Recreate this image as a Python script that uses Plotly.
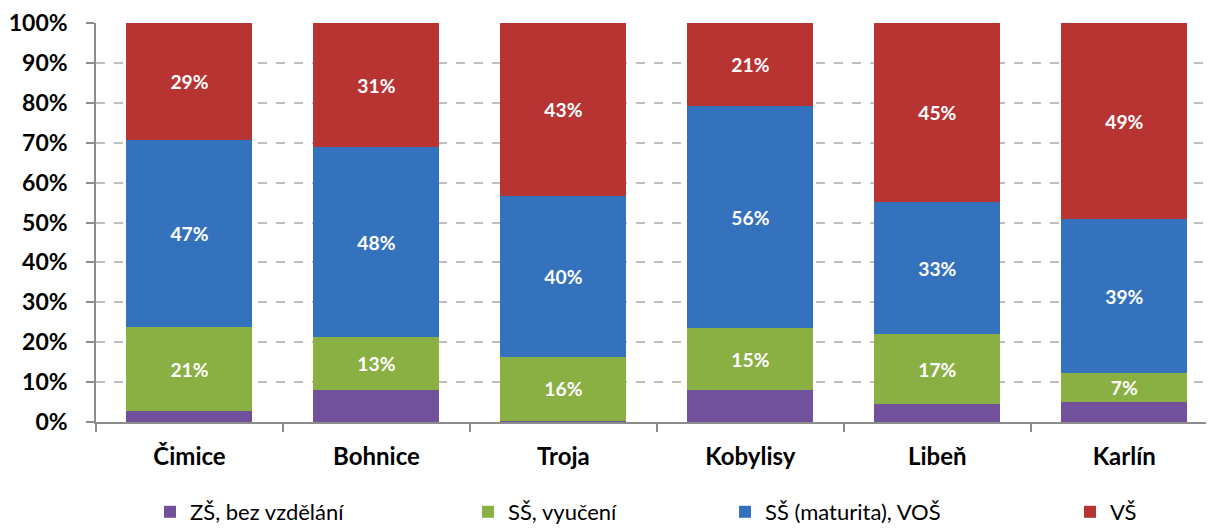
import plotly.graph_objects as go

categories = ["Čimice", "Bohnice", "Troja", "Kobylisy", "Libeň", "Karlín"]
zs_bez = [2.8, 7.9, 0.3, 8.1, 4.6, 5.0]
ss_vyuceni = [20.9, 13.4, 16.1, 15.4, 17.4, 7.3]
ss_maturita = [47.0, 47.6, 40.2, 55.8, 33.2, 38.5]
vs = [29.3, 31.1, 43.4, 20.7, 44.8, 49.2]
series_names = ["ZŠ, bez vzdělání", "SŠ, vyučení", "SŠ (maturita), VOŠ", "VŠ"]
y_ticks = [0, 10, 20, 30, 40, 50, 60, 70, 80, 90, 100]

colors = ["#71519A", "#8AB043", "#3572BD", "#B83433"]
FONT = "Lato"

# page has an 8px body margin; figure is sized to the visible area
OFF = 8
W, H = 1214 - OFF, 529 - OFF
L, R, T, B = 96 - OFF, 0, 23 - OFF, 529 - 422
pw = W - L - R
ph = H - T - B

def px2x(px):
    return (px - OFF - L) / pw

def px2y(py):
    return (H + OFF - B - py) / ph

fig = go.Figure()
data = [zs_bez, ss_vyuceni, ss_maturita, vs]
legend_ids = ["legend", "legend2", "legend3", "legend4"]
for i, (name, vals) in enumerate(zip(series_names, data)):
    show_text = i > 0
    fig.add_trace(go.Bar(
        x=categories, y=vals, name=name,
        marker=dict(color=colors[i], line=dict(width=0)),
        texttemplate="%{y:.0f}%" if show_text else None,
        textposition="inside" if show_text else "none",
        insidetextanchor="middle",
        textangle=0,
        textfont=dict(family=FONT, size=25, color="white", weight="bold"),
        hoverinfo="skip",
        legend=legend_ids[i],
        showlegend=True,
    ))

leg_px = [150, 468, 725, 1070]
legend_common = dict(
    orientation="h", yanchor="middle", xanchor="left",
    y=px2y(512), bgcolor="rgba(0,0,0,0)", borderwidth=0,
    font=dict(family=FONT, size=22, color="#000000"),
    itemwidth=30,
)
layout_legends = {}
for lid, lx in zip(legend_ids, leg_px):
    layout_legends[lid] = dict(legend_common, x=px2x(lx))

fig.update_layout(
    width=W, height=H,
    margin=dict(l=L, r=R, t=T, b=B, pad=0, autoexpand=False),
    paper_bgcolor="white", plot_bgcolor="white",
    barmode="stack", bargap=0.326,
    uniformtext=dict(mode="show", minsize=10),
    **layout_legends,
)

fig.update_xaxes(
    range=[-0.5, 5.48],
    showline=True, linecolor="#8C8C8C", linewidth=1.5,
    ticks="outside", tickson="boundaries", ticklen=8, tickcolor="#8C8C8C", tickwidth=1.5,
    tickfont=dict(family=FONT, size=24, color="#000000", weight="bold"),
    ticklabelstandoff=12,
    showgrid=False, zeroline=False, fixedrange=True, automargin=False,
)
fig.update_yaxes(
    range=[0, 100],
    tickvals=y_ticks, ticktext=[f"{v}%" for v in y_ticks],
    showline=True, linecolor="#8C8C8C", linewidth=1.5,
    ticks="outside", ticklen=8, tickcolor="#8C8C8C", tickwidth=1.5,
    tickfont=dict(family=FONT, size=23, color="#000000", weight="bold"),
    ticklabelstandoff=14,
    showgrid=True, gridcolor="#BFBFBF", gridwidth=1.5, griddash="dash",
    zeroline=False, fixedrange=True, automargin=False,
)

fig.write_html("out.html")
